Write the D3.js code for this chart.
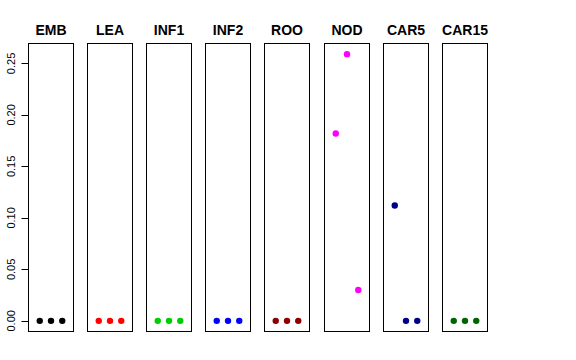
<!DOCTYPE html>
<html>
<head>
<meta charset="utf-8">
<script src="https://cdn.jsdelivr.net/npm/d3@7"></script>
<style>
  body { margin: 0; background: #fff; }
  text { font-family: "Liberation Sans", Arial, sans-serif; }
</style>
</head>
<body>
<script>
const w = 576, h = 360;

// tissues, one panel each
const tissues = ["EMB", "LEA", "INF1", "INF2", "ROO", "NOD", "CAR5", "CAR15"];
const colors = ["#000000", "#ff0000", "#00cd00", "#0000ff", "#8b0000", "#ff00ff", "#00008b", "#006400"];
// three replicates per tissue
const values = [
    [0, 0, 0],
    [0, 0, 0],
    [0, 0, 0],
    [0, 0, 0],
    [0, 0, 0],
    [0.182, 0.259, 0.030],
    [0.112, 0, 0],
    [0, 0, 0]
];
const yTicks = [0, 0.05, 0.10, 0.15, 0.20, 0.25];

const panelW = 45, panelStep = 59.1, marginLeft = 28.5, plotTop = 43.5, plotBottom = 331.5;

const svg = d3.select("body").append("svg")
    .attr("width", w)
    .attr("height", h);

const ymax = d3.max(values.flat());
const pad = ymax * 0.04;
const y = d3.scaleLinear()
    .domain([-pad, ymax + pad])
    .range([plotBottom, plotTop]);

const x = d3.scaleLinear()
    .domain([0, 4])
    .range([0, panelW]);

const panels = svg.selectAll(".panel")
    .data(tissues)
    .enter().append("g")
    .attr("class", "panel")
    .attr("transform", function (d, i) { return "translate(" + (marginLeft + Math.round(i * panelStep)) + ",0)"; });

panels.append("rect")
    .attr("x", 0)
    .attr("y", plotTop)
    .attr("width", panelW)
    .attr("height", plotBottom - plotTop)
    .attr("fill", "none")
    .attr("stroke", "#000")
    .attr("stroke-width", 1);

panels.append("text")
    .text(function (d) { return d; })
    .attr("x", panelW / 2)
    .attr("y", 35)
    .attr("text-anchor", "middle")
    .attr("font-size", "14px")
    .attr("font-weight", "bold");

panels.selectAll("circle")
    .data(function (d, i) { return values[i].map(function (v) { return { v: v, c: colors[i] }; }); })
    .enter().append("circle")
    .attr("cx", function (d, j) { return x(j + 1); })
    .attr("cy", function (d) { return y(d.v); })
    .attr("r", 3.2)
    .attr("fill", function (d) { return d.c; });

// y axis on the first panel
const axis = svg.append("g")
    .attr("transform", "translate(" + marginLeft + ",0)");

axis.selectAll("line")
    .data(yTicks)
    .enter().append("line")
    .attr("x1", -7)
    .attr("x2", 0)
    .attr("y1", function (d) { return Math.round(y(d)) + 0.5; })
    .attr("y2", function (d) { return Math.round(y(d)) + 0.5; })
    .attr("stroke", "#000");

axis.selectAll("text")
    .data(yTicks)
    .enter().append("text")
    .text(function (d) { return d.toFixed(2); })
    .attr("transform", function (d) { return "translate(-14," + y(d) + ") rotate(-90)"; })
    .attr("text-anchor", "middle")
    .attr("font-size", "11px");
</script>
</body>
</html>
